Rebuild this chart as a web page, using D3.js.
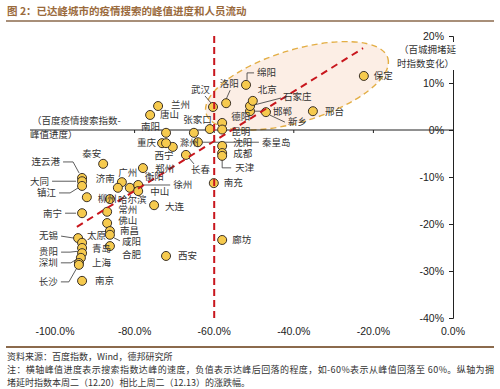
<!DOCTYPE html>
<html>
<head>
<meta charset="utf-8">
<script src="https://cdn.jsdelivr.net/npm/d3@7"></script>
<style>
  body { margin: 0; background: #fff; }
  svg { display: block; }
</style>
</head>
<body>
<svg id="chart"></svg>
<script>
// 数据
var cities = ["保定", "邢台", "新乡", "邯郸", "石家庄", "北京", "绵阳", "洛阳", "武汉", "德阳",
  "昆明", "张家口", "", "沈阳", "成都", "天津", "秦皇岛", "南充", "廊坊", "西安",
  "大连", "长春", "滁州", "重庆", "西宁", "南阳", "唐山", "兰州", "郑州", "泰安",
  "连云港", "大同", "镇江", "柳州", "南宁", "广州", "济南", "衡阳", "徐州", "中山",
  "哈尔滨", "常州", "佛山", "南昌", "咸阳", "合肥", "无锡", "太原", "青岛", "贵阳",
  "深圳", "上海", "长沙", "南京"];
var peakProgress = [-22.4, -35.2, -47.0, -51.0, -51.0, -50.3, -52.0, -57.0, -60.3, -58.0,
  -58.0, -61.1, -65.1, -58.0, -58.0, -58.0, -64.1, -60.1, -58.0, -72.1,
  -75.1, -67.1, -70.4, -73.1, -72.1, -72.1, -76.1, -74.1, -77.9, -87.9,
  -93.2, -93.2, -93.2, -92.0, -93.2, -83.2, -84.2, -81.2, -79.1, -79.1,
  -86.2, -86.9, -86.9, -86.2, -86.2, -86.2, -94.2, -93.2, -93.2, -93.2,
  -93.5, -94.0, -94.0, -93.2];
var congestionChange = [11.5, 4.0, 3.8, 4.0, 5.1, 6.2, 9.6, 5.7, 4.9, 1.5,
  0.1, 0.2, -0.6, -3.4, -4.9, -5.5, -2.6, -11.3, -23.4, -26.8,
  -16.0, -5.3, -3.6, -2.8, -2.8, -0.6, 3.2, 5.1, -8.1, -7.2,
  -10.2, -10.9, -11.9, -14.3, -17.7, -11.1, -12.3, -12.3, -11.7, -13.0,
  -14.7, -17.4, -19.8, -21.5, -22.3, -24.7, -23.0, -24.0, -25.1, -26.2,
  -27.2, -28.3, -28.7, -32.1];
var xTicks = [-100, -80, -60, -40, -20, 0];
var yTicks = [20, 10, 0, -10, -20, -30, -40];
var trendX = [-94.5, -22.6];
var trendY = [-20.6, 17.4];
var peakLine = -60;

// 标签位置 [dx, dy, anchor, 引线]
var labelPos = {
  "保定": [10, 0, "start"], "邢台": [12, 0, "start"],
  "新乡": [22, 10, "start", [[4, 3], [19, 10]]],
  "邯郸": [23, 0, "start", [[4, 0], [21, 0]]],
  "石家庄": [33, -9, "start", [[4, -1], [31, -8]]],
  "北京": [5, -11, "start"],
  "绵阳": [11, -12, "start", [[1, -5], [1, -12], [8, -12]]],
  "洛阳": [3, -20, "middle", [[0, -4], [4, -13]]],
  "武汉": [-3, -17, "end", [[-2, -4], [-8, -11]]],
  "德阳": [9, -6, "start"], "昆明": [9, 2, "start"],
  "张家口": [2, -9, "end"],
  "沈阳": [11, -3, "start"], "成都": [11, 1, "start"],
  "天津": [13, 12, "start", [[0, 4], [0, 12], [9, 12]]],
  "秦皇岛": [64, 0, "start", [[4, 0], [61, 0]]],
  "南充": [10, 0, "start"], "廊坊": [10, 0, "start"], "西安": [12, 0, "start"],
  "大连": [11, 1, "start"],
  "长春": [5, 15, "start", [[3, 3], [8, 9]]],
  "滁州": [7, -4, "start"], "重庆": [-6, 0, "end"], "西宁": [-2, 13, "middle"],
  "郑州": [12, 1, "start"], "南阳": [-6, -6, "end"], "唐山": [10, 0, "start"],
  "兰州": [13, -1, "start"], "泰安": [-2, -10, "end"],
  "连云港": [-22, -16, "end", [[-19, -16], [-9, -16], [-3, -5]]],
  "大同": [-33, 0, "end", [[-30, 0], [-6, 0]]],
  "镇江": [-26, 7, "end", [[-23, 7], [-12, 7], [-4, 2]]],
  "南宁": [-20, 0, "end", [[-17, 0], [-6, 0]]],
  "柳州": [11, 1, "start"], "哈尔滨": [8, 1, "start"],
  "广州": [6, -9, "middle"], "济南": [-3, -9, "end"], "衡阳": [15, -11, "start"],
  "徐州": [35, 0, "start", [[4, 0], [32, 0]]],
  "中山": [12, 1, "start"], "常州": [11, -2, "start"], "佛山": [11, -2, "start"],
  "南昌": [10, 0, "start"],
  "咸阳": [12, 7, "start", [[4, 3], [10, 6]]],
  "合肥": [12, 9, "start"],
  "无锡": [-20, -2, "end", [[-17, -2], [-4, 0]]],
  "太原": [5, -7, "start"], "青岛": [10, 1, "start"],
  "贵阳": [-24, -1, "end", [[-21, -1], [-12, -1], [-3, -2]]],
  "深圳": [-23, 5, "end", [[-20, 5], [-10, 5], [-2, 0]]],
  "上海": [13, 0, "start"],
  "长沙": [-21, 17, "end", [[-18, 17], [-10, 17], [-2, 3]]],
  "南京": [13, 0, "start"]
};

var width = 500, height = 389;
var brown = "#8B6A4C";
var cjk = "'Noto Sans CJK SC', sans-serif";

var svg = d3.select('#chart')
    .attr('width', width)
    .attr('height', height)
    .style('font-family', cjk);

var x = d3.scaleLinear().domain([-100, 0]).range([55, 453]);
var y = d3.scaleLinear().domain([-40, 20]).range([318, 36]);

// 标题
svg.append('text')
    .attr('x', 7).attr('y', 15)
    .attr('fill', '#9A6A3C')
    .style('font-size', '10.5px')
    .style('font-weight', 'bold')
    .text('图 2：已达峰城市的疫情搜索的峰值进度和人员流动');
svg.append('line')
    .attr('x1', 6).attr('x2', 494).attr('y1', 21).attr('y2', 21)
    .attr('stroke', brown).attr('stroke-width', 1.5);

// 椭圆
svg.append('ellipse')
    .attr('cx', x(-39.2)).attr('cy', y(9.4))
    .attr('rx', 95).attr('ry', 36)
    .attr('transform', 'rotate(-17,' + x(-39.2) + ',' + y(9.4) + ')')
    .attr('fill', '#FCEEE5')
    .attr('stroke', '#E3AE45')
    .attr('stroke-width', 1.4)
    .attr('stroke-dasharray', '6,4');

// x 轴线（0% 处）
svg.append('line')
    .attr('x1', 30).attr('x2', x(0))
    .attr('y1', y(0)).attr('y2', y(0))
    .attr('stroke', '#222').attr('stroke-width', 1);
svg.selectAll('.xtick')
    .data(xTicks.slice(0, -1))
    .enter()
    .append('line')
    .attr('x1', function(d) { return x(d); })
    .attr('x2', function(d) { return x(d); })
    .attr('y1', y(0)).attr('y2', y(0) + 3)
    .attr('stroke', '#222');

// x 轴刻度标签
svg.selectAll('.xlabel')
    .data(xTicks)
    .enter()
    .append('text')
    .attr('x', function(d) { return x(d); })
    .attr('y', 335)
    .attr('text-anchor', 'middle')
    .attr('fill', '#222')
    .style('font-family', "'Liberation Sans', Arial, sans-serif")
    .style('font-size', '10.5px')
    .text(function(d) { return d.toFixed(1) + '%'; });

// y 轴（右侧）
var yAxis = svg.append('g')
    .attr('transform', 'translate(' + x(0) + ',0)')
    .call(d3.axisLeft(y).tickValues(yTicks).tickSize(4).tickPadding(5)
        .tickFormat(function(d) { return d + '%'; }));
yAxis.selectAll('path, line').attr('stroke', '#222');
yAxis.selectAll('text')
    .attr('fill', '#222')
    .style('font-family', "'Liberation Sans', Arial, sans-serif")
    .style('font-size', '10.5px');

// 轴标题
svg.append('rect')
    .attr('x', 396).attr('y', 42).attr('width', 62).attr('height', 28)
    .attr('fill', '#fff');
svg.append('text')
    .attr('x', 456).attr('y', 53).attr('text-anchor', 'end')
    .attr('fill', '#333').style('font-size', '9.5px')
    .text('（百城拥堵延');
svg.append('text')
    .attr('x', 454).attr('y', 67).attr('text-anchor', 'end')
    .attr('fill', '#333').style('font-size', '9.5px')
    .text('时指数变化）');
svg.append('text')
    .attr('x', 32).attr('y', 124)
    .attr('fill', '#333').style('font-size', '9.5px')
    .text('（百度疫情搜索指数-');
svg.append('text')
    .attr('x', 30).attr('y', 138)
    .attr('fill', '#333').style('font-size', '9.5px')
    .text('峰值进度）');

// 数据点
var points = cities.map(function(c, i) {
    return { name: c, px: x(peakProgress[i]), py: y(congestionChange[i]) };
});

// 引线
var leaderLine = d3.line();
svg.selectAll('.leader')
    .data(points.filter(function(d) { return labelPos[d.name] && labelPos[d.name][3]; }))
    .enter()
    .append('path')
    .attr('d', function(d) {
        return leaderLine(labelPos[d.name][3].map(function(p) { return [d.px + p[0], d.py + p[1]]; }));
    })
    .attr('fill', 'none')
    .attr('stroke', '#333')
    .attr('stroke-width', 0.8);

svg.selectAll('.dot')
    .data(points)
    .enter()
    .append('circle')
    .attr('cx', function(d) { return d.px; })
    .attr('cy', function(d) { return d.py; })
    .attr('r', 4.5)
    .attr('fill', '#F6CA4E')
    .attr('stroke', '#3A3026')
    .attr('stroke-width', 1);

// 红色虚线
svg.append('line')
    .attr('x1', x(peakLine)).attr('x2', x(peakLine))
    .attr('y1', y(20)).attr('y2', y(-40) + 3)
    .attr('stroke', '#C8161D').attr('stroke-width', 2)
    .attr('stroke-dasharray', '7,4');
svg.append('line')
    .attr('x1', x(trendX[0])).attr('y1', y(trendY[0]))
    .attr('x2', x(trendX[1])).attr('y2', y(trendY[1]))
    .attr('stroke', '#C8161D').attr('stroke-width', 2)
    .attr('stroke-dasharray', '7,5');

// 城市标签
svg.selectAll('.city')
    .data(points.filter(function(d) { return labelPos[d.name]; }))
    .enter()
    .append('text')
    .attr('x', function(d) { return d.px + labelPos[d.name][0]; })
    .attr('y', function(d) { return d.py + labelPos[d.name][1]; })
    .attr('dy', '0.35em')
    .attr('text-anchor', function(d) { return labelPos[d.name][2]; })
    .attr('fill', '#333')
    .style('font-size', '9.5px')
    .text(function(d) { return d.name; });

// 底部说明
svg.append('line')
    .attr('x1', 6).attr('x2', 494).attr('y1', 347).attr('y2', 347)
    .attr('stroke', brown).attr('stroke-width', 2);
svg.append('text')
    .attr('x', 7).attr('y', 360)
    .attr('fill', '#333').style('font-size', '9px')
    .text('资料来源：百度指数，Wind，德邦研究所');
svg.append('text')
    .attr('x', 7).attr('y', 373)
    .attr('fill', '#333').style('font-size', '9px')
    .attr('textLength', 487).attr('lengthAdjust', 'spacing')
    .text('注：横轴峰值进度表示搜索指数达峰的速度，负值表示达峰后回落的程度，如-60%表示从峰值回落至 60%。纵轴为拥');
svg.append('text')
    .attr('x', 7).attr('y', 386)
    .attr('fill', '#333').style('font-size', '9px')
    .text('堵延时指数本周二（12.20）相比上周二（12.13）的涨跌幅。');
</script>
</body>
</html>
